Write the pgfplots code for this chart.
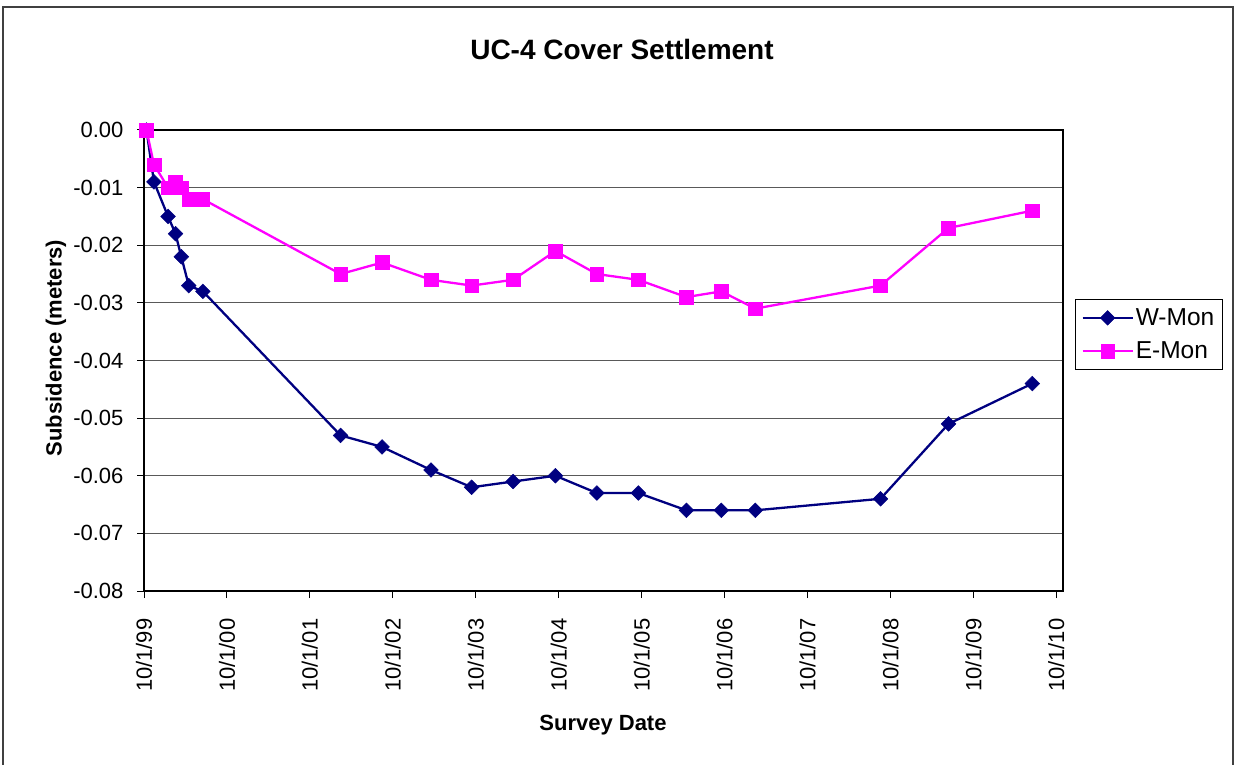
\documentclass[border=0pt]{standalone}
\usepackage{fontspec}
\setmainfont{Liberation Sans}
\usepackage{pgfplots}
\pgfplotsset{compat=1.18}
\definecolor{wmon}{RGB}{0,0,128}
\definecolor{emon}{RGB}{255,0,255}
\begin{document}
\begin{tikzpicture}[x=1pt,y=1pt]
\useasboundingbox (0,0) rectangle (1235,764);
\draw[line width=1.2pt, black!75] (3,-10) rectangle (1233,757);
\node[font=\fontsize{28}{32}\selectfont\bfseries] at (622,715) {UC-4 Cover Settlement};
\node[font=\fontsize{22}{26}\selectfont\bfseries] at (603,39) {Survey Date};
\node[font=\fontsize{22}{26}\selectfont\bfseries, rotate=90] at (56,416) {Subsidence (meters)};
\begin{axis}[
  at={(144pt,173pt)}, anchor=south west,
  scale only axis, width=919pt, height=461pt,
  xmin=0, xmax=11.08, ymin=-0.08, ymax=0,
  clip=false,
  scaled y ticks=false, scaled x ticks=false,
  axis line style={line width=1.8pt, black},
  tick pos=left, tick align=outside,
  major tick length=7pt,
  every tick/.style={black, line width=1pt},
  ymajorgrids, major grid style={black!65, line width=1pt},
  xtick={0,1,2,3,4,5,6,7,8,9,10,11},
  xticklabels={10/1/99,10/1/00,10/1/01,10/1/02,10/1/03,10/1/04,10/1/05,10/1/06,10/1/07,10/1/08,10/1/09,10/1/10},
  ytick={0,-0.01,-0.02,-0.03,-0.04,-0.05,-0.06,-0.07,-0.08},
  yticklabels={0.00,-0.01,-0.02,-0.03,-0.04,-0.05,-0.06,-0.07,-0.08},
  ticklabel style={font=\fontsize{22}{26}\selectfont},
  xticklabel shift=17pt, yticklabel shift=10pt,
  x tick label style={rotate=90, anchor=east},
  legend style={at={(axis description cs:1.013,0.633)}, anchor=north west,
    draw=black, line width=1pt, font=\fontsize{24.5}{28}\selectfont,
    inner xsep=6pt, inner ysep=7pt, row sep=11pt},
  legend cell align=left,
  legend image code/.code={\draw[mark repeat=2,mark phase=2] plot coordinates {(0pt,0pt)(25pt,0pt)(50pt,0pt)};},
]
\addplot[color=wmon, line width=2.3pt, mark=square*, mark size=5.2pt, mark options={rotate=45, fill=wmon, line width=0.5pt}] coordinates {
(0.03,0.000) (0.12,-0.009) (0.29,-0.015) (0.38,-0.018) (0.45,-0.022) (0.54,-0.027) (0.71,-0.028)
(2.37,-0.053) (2.87,-0.055) (3.46,-0.059) (3.95,-0.062) (4.45,-0.061) (4.96,-0.060) (5.46,-0.063)
(5.96,-0.063) (6.54,-0.066) (6.96,-0.066) (7.37,-0.066) (8.88,-0.064) (9.70,-0.051) (10.71,-0.044)
};
\addlegendentry{W-Mon}
\addplot[color=emon, line width=2.3pt, mark=square*, mark size=6.8pt, mark options={fill=emon, line width=0.5pt}] coordinates {
(0.03,0.000) (0.12,-0.006) (0.29,-0.010) (0.38,-0.009) (0.45,-0.010) (0.54,-0.012) (0.71,-0.012)
(2.37,-0.025) (2.87,-0.023) (3.46,-0.026) (3.95,-0.027) (4.45,-0.026) (4.96,-0.021) (5.46,-0.025)
(5.96,-0.026) (6.54,-0.029) (6.96,-0.028) (7.37,-0.031) (8.88,-0.027) (9.70,-0.017) (10.71,-0.014)
};
\addlegendentry{E-Mon}
\end{axis}
\end{tikzpicture}
\end{document}
